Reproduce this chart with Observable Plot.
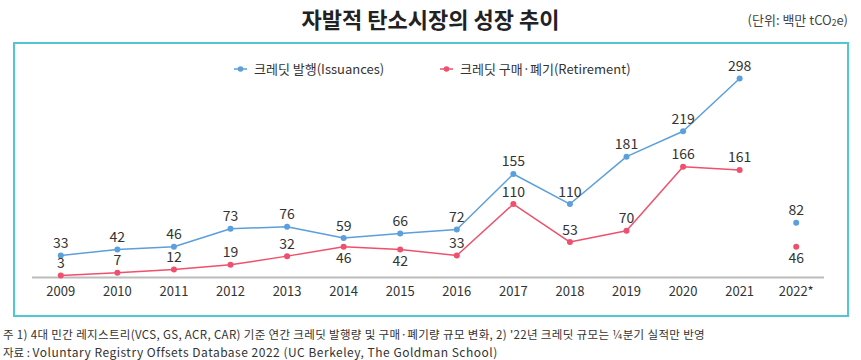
<!DOCTYPE html>
<html><head><meta charset="utf-8">
<script src="https://cdn.jsdelivr.net/npm/d3@7"></script>
<script src="https://cdn.jsdelivr.net/npm/@observablehq/plot@0.6"></script>
<style>
html,body{margin:0;padding:0;background:#fff;}
#page{position:relative;width:861px;height:360px;overflow:hidden;font-family:"Noto Sans CJK KR","Noto Sans",sans-serif;color:#333;}
#title{position:absolute;left:0;top:2px;width:861px;text-align:center;font-size:22px;line-height:32px;font-weight:700;color:#222;letter-spacing:0px;}
#unit{position:absolute;right:13px;top:10px;font-size:13px;color:#444;}
#unit sub{font-size:8.5px;vertical-align:-1px;}
#box{position:absolute;left:13px;top:42px;width:836px;height:275px;box-sizing:border-box;border:2px solid #52c7d4;}
#legend{position:absolute;top:59px;left:0;width:861px;font-size:13px;color:#333;}
.li{position:absolute;display:flex;align-items:center;gap:7px;white-space:nowrap;}
#chart{position:absolute;left:0;top:50px;}
#notes{position:absolute;left:3px;top:326px;font-size:11.5px;line-height:17px;color:#333;white-space:nowrap;}
#notes div{height:17px;}
#n1{letter-spacing:0.35px;}
#n2 .lat{font-size:12px;letter-spacing:0.5px;}
</style></head>
<body>
<div id="page">
  <div id="title">자발적 탄소시장의 성장 추이</div>
  <div id="unit">(단위: 백만 tCO<sub>2</sub>e)</div>
  <div id="box"></div>
  <div id="chart"></div>
  <div id="legend"></div>
  <div id="notes">
    <div id="n1">주 1) 4대 민간 레지스트리(VCS, GS, ACR, CAR) 기준 연간 크레딧 발행량 및 구매·폐기량 규모 변화, 2) '22년 크레딧 규모는 ¼분기 실적만 반영</div>
    <div id="n2">자료 : <span class="lat">Voluntary Registry Offsets Database 2022 (UC Berkeley, The Goldman School)</span></div>
  </div>
</div>
<script>
const years = ["2009","2010","2011","2012","2013","2014","2015","2016","2017","2018","2019","2020","2021","2022*"];
const issuances = [33,42,46,73,76,59,66,72,155,110,181,219,298,82];
const retirement = [3,7,12,19,32,46,42,33,110,53,70,166,161,46];
const seriesNames = ["크레딧 발행(Issuances)", "크레딧 구매·폐기(Retirement)"];
const partialYear = "2022*";
const retireLabelBelow = ["2014","2015","2022*"];

const colors = ["#5b9fdc", "#ef506d"];

const data = [];
years.forEach((y, i) => {
  data.push({year: y, value: issuances[i], series: seriesNames[0]});
  data.push({year: y, value: retirement[i], series: seriesNames[1]});
});
const full = data.filter(d => d.year !== partialYear);
const issueData = data.filter(d => d.series === seriesNames[0]);
const retData = data.filter(d => d.series === seriesNames[1]);

const chart = Plot.plot({
  width: 861,
  height: 260,
  marginLeft: 32,
  marginRight: 37,
  marginTop: 28,
  marginBottom: 33,
  style: {fontFamily: '"Noto Sans CJK KR","Noto Sans",sans-serif', background: "transparent", color: "#333"},
  x: {type: "point", domain: years, padding: 0.5, round: false},
  y: {domain: [0, 298], axis: null},
  color: {domain: seriesNames, range: colors},
  marks: [
    Plot.ruleY([0], {stroke: "#bcbcbc", strokeWidth: 2}),
    Plot.line(full, {x: "year", y: "value", z: "series", stroke: "series", strokeWidth: 1.5}),
    Plot.dot(data, {x: "year", y: "value", fill: "series", r: 3}),
    Plot.text(issueData, {x: "year", y: "value", text: d => String(d.value), dy: -12, fontSize: 14, fill: "#333"}),
    Plot.text(retData.filter(d => !retireLabelBelow.includes(d.year)), {x: "year", y: "value", text: d => String(d.value), dy: -12, fontSize: 14, fill: "#333"}),
    Plot.text(retData.filter(d => retireLabelBelow.includes(d.year)), {x: "year", y: "value", text: d => String(d.value), dy: 12, fontSize: 14, fill: "#333"}),
    Plot.axisX({tickSize: 0, tickPadding: 9, fontSize: 13, label: null, color: "#333"})
  ]
});
document.getElementById("chart").appendChild(chart);

const legend = document.getElementById("legend");
const legendX = [234, 440];
seriesNames.forEach((name, i) => {
  const el = document.createElement("div");
  el.className = "li";
  el.style.left = legendX[i] + "px";
  el.innerHTML = `<svg width="13" height="8"><line x1="0" y1="4" x2="13" y2="4" stroke="${colors[i]}" stroke-width="1.5"/><circle cx="6.5" cy="4" r="2.8" fill="${colors[i]}"/></svg><span>${name}</span>`;
  legend.appendChild(el);
});
</script>
</body></html>
